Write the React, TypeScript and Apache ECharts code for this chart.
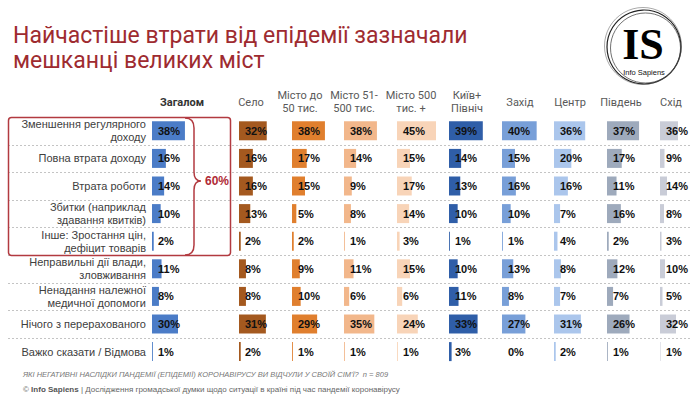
import React, { useEffect, useRef } from "react";
import * as echarts from "echarts";

const categories = [
  "Зменшення регулярного\nдоходу",
  "Повна втрата доходу",
  "Втрата роботи",
  "Збитки (наприклад\nздавання квитків)",
  "Інше: Зростання цін,\nдефіцит товарів",
  "Неправильні дії влади,\nзловживання",
  "Ненадання належної\nмедичної допомоги",
  "Нічого з перерахованого",
  "Важко сказати / Відмова",
];

const headers = [
  "Загалом",
  "Село",
  "Місто до\n50 тис.",
  "Місто 51-\n500 тис.",
  "Місто 500\nтис. +",
  "Київ+\nПівніч",
  "Захід",
  "Центр",
  "Південь",
  "Схід",
];

const total = [38, 16, 14, 10, 2, 11, 8, 30, 1];
const village = [32, 16, 16, 13, 2, 8, 8, 31, 2];
const cityTo50 = [38, 17, 15, 5, 2, 9, 10, 29, 1];
const city51to500 = [38, 14, 9, 8, 1, 11, 6, 35, 1];
const city500plus = [45, 15, 17, 14, 3, 15, 6, 24, 1];
const kyivNorth = [39, 14, 13, 10, 1, 10, 11, 33, 3];
const west = [40, 15, 16, 10, 1, 13, 8, 27, 0];
const center = [36, 20, 16, 7, 4, 8, 7, 31, 2];
const south = [37, 17, 11, 16, 2, 12, 7, 26, 1];
const east = [36, 9, 14, 8, 3, 10, 5, 32, 1];

const columns = [total, village, cityTo50, city51to500, city500plus, kyivNorth, west, center, south, east];

const bracketTotal = "60%";

const colors = [
  "#4b7cc7",
  "#a4591f",
  "#e07f2e",
  "#f2b78b",
  "#f8d4b8",
  "#2f5ea8",
  "#789fd8",
  "#abc6ec",
  "#9eaabc",
  "#c9ccd7",
];

// layout
const TOP = 117;
const ROW_H = 27.6;
const gridLefts = [152, 239, 292, 344, 397, 449, 502, 554, 607, 660];
const headerCX = [182, 251, 300, 354, 411, 467, 520, 570, 621, 671];

const SANS = "Liberation Sans, Arial, sans-serif";
const ROBOTO = "Roboto, Liberation Sans, sans-serif";

export default function App() {
  const ref = useRef<HTMLDivElement>(null);

  useEffect(() => {
    if (!ref.current) return;
    echarts.graphic.registerShape(
      "brace",
      echarts.graphic.extendPath(
        "M185,118 Q194,118 194,128 L194,172 Q194,181 201,181 Q194,181 194,190 L194,245 Q194,255 185,255",
        {}
      )
    );
    const chart = echarts.init(ref.current, null, { renderer: "svg" });
    const n = categories.length;

    const graphics: any[] = [];
    // title
    graphics.push({
      type: "text",
      x: 13,
      y: 23,
      style: {
        text: "Найчастіше втрати від епідемії зазначали\nмешканці великих міст",
        font: `400 23px ${ROBOTO}`,
        fill: "#9e2b30",
        lineHeight: 25,
      },
    });
    // logo
    graphics.push(
      { type: "circle", shape: { cx: 644, cy: 47, r: 37 }, style: { stroke: "#222", fill: "none", lineWidth: 1.2 } },
      { type: "circle", shape: { cx: 645.5, cy: 48, r: 35 }, style: { stroke: "#333", fill: "none", lineWidth: 0.7 } },
      { type: "circle", shape: { cx: 643, cy: 46, r: 38.5 }, style: { stroke: "#555", fill: "none", lineWidth: 0.5 } },
      {
        type: "text",
        x: 643,
        y: 44,
        style: {
          text: "IS",
          font: "bold 44px Liberation Serif, Times New Roman, serif",
          fill: "#000",
          align: "center",
          verticalAlign: "middle",
        },
      },
      {
        type: "text",
        x: 644,
        y: 72,
        style: { text: "Info Sapiens", font: `7.5px ${SANS}`, fill: "#111", align: "center", verticalAlign: "middle" },
      }
    );
    // headers
    headers.forEach((h, i) => {
      graphics.push({
        type: "text",
        x: headerCX[i],
        y: 102,
        style: {
          text: h,
          font: i === 0 ? `bold 11px ${ROBOTO}` : `11px ${ROBOTO}`,
          fill: i === 0 ? "#333" : "#595959",
          align: "center",
          verticalAlign: "middle",
          lineHeight: 13,
        },
      });
    });
    // dashed separators
    for (let k = 1; k < n; k++) {
      const y = Math.round(TOP + ROW_H * k) + 0.5;
      graphics.push({
        type: "line",
        shape: { x1: 8, y1: y, x2: 690, y2: y },
        style: { stroke: "#c4c4c4", lineWidth: 1, lineDash: [2, 2] },
        z: -1,
      });
    }
    // red box + brace
    graphics.push(
      {
        type: "rect",
        shape: { x: 8.5, y: 117.5, width: 222, height: 138, r: 3 },
        style: { stroke: "#b23a40", fill: "none", lineWidth: 1.5 },
      },
      { type: "brace", x: 0, y: 0, style: { stroke: "#b23a40", fill: "none", lineWidth: 1.5 } },
      {
        type: "text",
        x: 205,
        y: 181,
        style: { text: bracketTotal, font: `bold 12px ${SANS}`, fill: "#b02a35", verticalAlign: "middle" },
      }
    );
    // footer
    graphics.push(
      {
        type: "text",
        x: 23,
        y: 374,
        style: {
          text: "ЯКІ НЕГАТИВНІ НАСЛІДКИ ПАНДЕМІЇ (ЕПІДЕМІЇ) КОРОНАВІРУСУ ВИ ВІДЧУЛИ У СВОЇЙ СІМ'Ї?  n = 809",
          font: `italic 7.5px ${SANS}`,
          fill: "#777",
          verticalAlign: "middle",
        },
      },
      {
        type: "text",
        x: 23,
        y: 389,
        style: {
          text: "© {b|Info Sapiens} | Дослідження громадської думки щодо ситуації в країні під час пандемії коронавірусу",
          font: `8px ${SANS}`,
          fill: "#666",
          verticalAlign: "middle",
          rich: { b: { fontWeight: "bold", fontSize: 8, fontFamily: SANS, fill: "#555" } },
        },
      }
    );

    const option: any = {
      animation: false,
      backgroundColor: "#fff",
      grid: gridLefts.map((l) => ({ left: l, top: TOP, width: 52, height: ROW_H * n })),
      xAxis: gridLefts.map((_, i) => ({ type: "value", gridIndex: i, min: 0, max: 60, show: false })),
      yAxis: gridLefts.map((_, i) => ({
        type: "category",
        gridIndex: i,
        data: categories,
        inverse: true,
        axisLine: { show: false },
        axisTick: { show: false },
        splitLine: { show: false },
        axisLabel:
          i === 0
            ? { show: true, margin: 6, fontSize: 11, color: "#404040", fontFamily: SANS, lineHeight: 13, align: "right" }
            : { show: false },
      })),
      series: columns.map((vals, i) => ({
        type: "bar",
        name: headers[i],
        xAxisIndex: i,
        yAxisIndex: i,
        data: vals,
        barWidth: 19,
        itemStyle: { color: colors[i] },
        label: {
          show: true,
          position: "insideLeft",
          distance: 6,
          formatter: "{c}%",
          fontWeight: "bold",
          fontSize: 11,
          color: "#111",
          fontFamily: SANS,
        },
      })),
      graphic: graphics,
    };
    chart.setOption(option);
    return () => chart.dispose();
  }, []);

  return <div ref={ref} style={{ position: "fixed", left: 0, top: 0, width: 690, height: 396 }} />;
}
